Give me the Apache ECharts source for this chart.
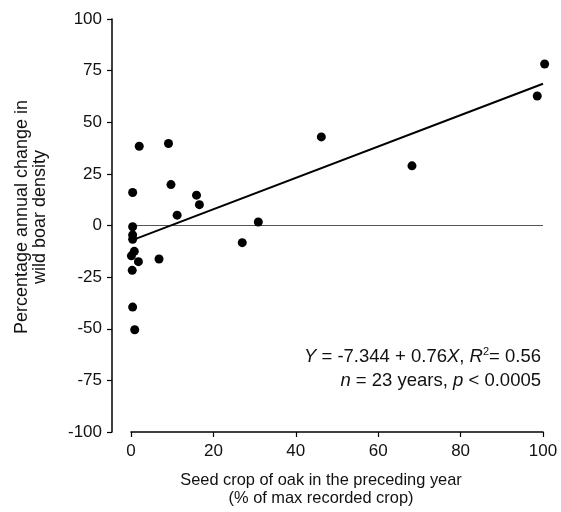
<!DOCTYPE html>
<html><head><meta charset="utf-8">
<script src="https://cdn.jsdelivr.net/npm/echarts@6/dist/echarts.min.js"></script>
<style>html,body{margin:0;padding:0;background:#fff}#c{width:561px;height:512px}</style>
</head><body><div id="c"></div>
<script>
// Seed crop of oak (% of max) in preceding year
const seedCrop = [2.0, 9.1, 0.4, 9.7, 15.9, 16.6, 11.2, 30.9, 27.0, 0.4, 0.4, 0.4, 0.8, 0.1, 1.8, 6.8, 0.3, 0.4, 0.9, 46.2, 68.2, 98.6, 100.4];
// Percentage annual change in wild boar density
const densityChange = [38.4, 39.7, 16.0, 19.8, 14.7, 10.1, 5.0, 1.7, -8.3, -0.6, -4.6, -6.7, -12.5, -14.7, -17.5, -16.2, -21.7, -39.5, -50.5, 42.9, 28.9, 62.7, 78.2];
const xTicks = [0, 20, 40, 60, 80, 100];
const yTicks = [-100, -75, -50, -25, 0, 25, 50, 75, 100];
const intercept = -7.344, slope = 0.76;
const fitX = [0, 100];

const font = '"Liberation Sans", Arial, sans-serif';
const chart = echarts.init(document.getElementById('c'), null, {renderer: 'canvas'});
const pts = seedCrop.map((x, i) => [x, densityChange[i]]);
const fit = fitX.map(x => [x, intercept + slope * x]);
chart.setOption({
  animation: false,
  backgroundColor: '#fff',
  grid: {left: 131, right: 18, top: 19, bottom: 80},
  xAxis: {
    type: 'value', min: xTicks[0], max: xTicks[xTicks.length - 1], interval: 20,
    axisLine: {onZero: false, lineStyle: {color: '#000', width: 1.5}},
    axisTick: {show: true, length: 5, lineStyle: {color: '#000', width: 1.2}},
    axisLabel: {color: '#111', fontSize: 17, fontFamily: font, margin: 11},
    splitLine: {show: false}
  },
  yAxis: {
    type: 'value', min: yTicks[0], max: yTicks[yTicks.length - 1], interval: 25, offset: 19,
    axisLine: {show: true, onZero: false, lineStyle: {color: '#000', width: 1.5}},
    axisTick: {show: true, length: 5, lineStyle: {color: '#000', width: 1.2}},
    axisLabel: {color: '#111', fontSize: 17, fontFamily: font, margin: 10},
    splitLine: {show: false}
  },
  series: [
    {type: 'line', data: [[0, 0], [100, 0]], symbol: 'none', lineStyle: {color: '#555', width: 1}, z: 1},
    {type: 'line', data: fit, symbol: 'none', lineStyle: {color: '#000', width: 2}, z: 2},
    {type: 'scatter', data: pts, symbol: 'circle', symbolSize: 9, clip: false, itemStyle: {color: '#000', opacity: 1}, z: 3}
  ],
  graphic: [
    {type: 'text', x: 31, y: 217, rotation: Math.PI / 2, style: {text: 'Percentage annual change in\nwild boar density', font: '18px ' + font, fill: '#111', align: 'center', verticalAlign: 'middle', lineHeight: 18}},
    {type: 'text', x: 321, y: 489, style: {text: 'Seed crop of oak in the preceding year\n(% of max recorded crop)', font: '16.4px ' + font, fill: '#111', align: 'center', verticalAlign: 'middle', lineHeight: 18}},
    {type: 'text', x: 541, y: 357, style: {
      text: '{i|Y} = -7.344 + 0.76{i|X}, {i|R}{s|2}= 0.56', align: 'right', verticalAlign: 'middle',
      font: '18.5px ' + font, fill: '#111',
      rich: {i: {fontStyle: 'italic', fontSize: 18.5, fontFamily: font}, s: {fontSize: 11, fontFamily: font, verticalAlign: 'top', padding: [0, 0, 10, 0]}}
    }},
    {type: 'text', x: 541, y: 381, style: {
      text: '{i|n} = 23 years, {i|p} < 0.0005', align: 'right', verticalAlign: 'middle',
      font: '18.5px ' + font, fill: '#111',
      rich: {i: {fontStyle: 'italic', fontSize: 18.5, fontFamily: font}}
    }}
  ]
});
</script></body></html>
